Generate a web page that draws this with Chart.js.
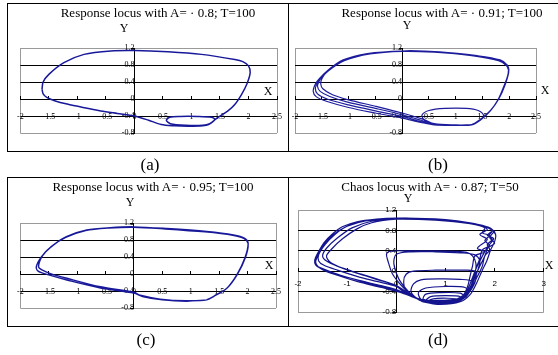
<!DOCTYPE html>
<html><head><meta charset="utf-8">
<script src="https://cdn.jsdelivr.net/npm/chart.js@4.4.1/dist/chart.umd.min.js"></script>
<style>
html,body{margin:0;padding:0;background:#fff;}
#wrap{position:relative;width:558px;height:355px;overflow:hidden;background:#fff;}
canvas{position:absolute;left:0;top:0;}
.box{position:absolute;border:1px solid #000;box-sizing:border-box;}
.t{position:absolute;transform:translate(-50%,-50%);white-space:nowrap;font-family:'Liberation Serif',serif;color:#000;line-height:1;}
.title{font-size:13px;}
.ax{font-size:12px;}
.cap{font-size:17px;}
</style></head><body>
<div id="wrap">
<div class="box" style="left:7px;top:3px;width:282px;height:149px"></div>
<div class="box" style="left:288px;top:3px;width:280px;height:149px"></div>
<div class="box" style="left:7px;top:177px;width:282px;height:150px"></div>
<div class="box" style="left:288px;top:177px;width:280px;height:150px"></div>
<canvas id="cA" width="558" height="355"></canvas>
<canvas id="cB" width="558" height="355"></canvas>
<canvas id="cC" width="558" height="355"></canvas>
<canvas id="cD" width="558" height="355"></canvas>
<div class="t title" style="left:158px;top:12px">Response locus with A= · 0.8; T=100</div>
<div class="t title" style="left:442px;top:12px">Response locus with A= · 0.91; T=100</div>
<div class="t title" style="left:153px;top:186px">Response locus with A= · 0.95; T=100</div>
<div class="t title" style="left:430px;top:186px">Chaos locus with A= · 0.87; T=50</div>
<div class="t ax" style="left:124px;top:28px">Y</div>
<div class="t ax" style="left:407px;top:25px">Y</div>
<div class="t ax" style="left:130px;top:202px">Y</div>
<div class="t ax" style="left:408px;top:198px">Y</div>
<div class="t ax" style="left:268px;top:91px">X</div>
<div class="t ax" style="left:545px;top:90px">X</div>
<div class="t ax" style="left:269px;top:265px">X</div>
<div class="t ax" style="left:549px;top:265px">X</div>
<div class="t cap" style="left:150px;top:164px">(a)</div>
<div class="t cap" style="left:438px;top:164px">(b)</div>
<div class="t cap" style="left:146px;top:339px">(c)</div>
<div class="t cap" style="left:438px;top:339px">(d)</div>
</div>
<script>
const xTicksABC = [-2,-1.5,-1,-0.5,0,0.5,1,1.5,2,2.5];
const xTicksD = [-2,-1,0,1,2,3];
const yTicks = [-0.8,-0.4,0,0.4,0.8,1.2];

const locusA = [
[-1.62,0.23],[-1.6,0.12],[-1.53,0.03],[-1.4,-0.04],[-1.18,-0.12],[-0.9,-0.2],[-0.59,-0.28],[-0.3,-0.34],[0,-0.4],[0.25,-0.5],[0.47,-0.6],[0.7,-0.63],[0.94,-0.64],[1.2,-0.63],[1.3,-0.6],[1.41,-0.48],[1.35,-0.43],[1.1,-0.41],[0.8,-0.41],[0.62,-0.43],[0.56,-0.5],[0.63,-0.58],[0.9,-0.62],[1.2,-0.62],[1.32,-0.58],[1.45,-0.45],[1.64,-0.28],[1.76,-0.13],[1.88,0.11],[1.97,0.345],[2.03,0.62],[2.0,0.78],[1.9,0.88],[1.76,0.93],[1.175,1.05],[0.587,1.11],[0,1.14],[-0.413,1.13],[-0.883,1.05],[-1.236,0.855],[-1.5,0.58],[-1.6,0.4],[-1.62,0.23]
];

const locusB = [
[1.3,-0.61],[1.47,-0.48],[1.65,-0.27],[1.8,0.0],[1.91,0.31],[1.99,0.62],[1.97,0.78],[1.82,0.91],[1.36,1.02],[0.66,1.11],[0,1.13],[-0.63,1.07],[-1.1,0.91],[-1.39,0.67],[-1.55,0.47],
[-1.62,0.35],[-1.66,0.18],[-1.6,0.05],[-1.4,-0.06],[-1.0,-0.2],[-0.5,-0.33],[0,-0.45],[0.35,-0.55],[0.6,-0.61],[1.0,-0.62],[1.3,-0.61],
[1.46,-0.5],[1.64,-0.29],[1.79,-0.02],[1.9,0.3],[1.98,0.6],[1.96,0.77],[1.8,0.9],[1.3,1.02],[0.6,1.1],[0,1.12],[-0.6,1.06],[-1.08,0.9],[-1.38,0.66],[-1.53,0.47],
[-1.58,0.38],[-1.62,0.25],[-1.58,0.12],[-1.4,0.0],[-1.0,-0.14],[-0.5,-0.28],[0,-0.41],[0.35,-0.53],[0.6,-0.6],[1.0,-0.61],[1.3,-0.6],
[1.47,-0.48],[1.52,-0.38],[1.42,-0.27],[1.2,-0.22],[0.8,-0.22],[0.5,-0.27],[0.37,-0.38],[0.42,-0.5],[0.6,-0.59],[1.0,-0.62],[1.3,-0.61],
[1.47,-0.49],[1.66,-0.26],[1.81,0.01],[1.92,0.32],[1.99,0.63],[1.97,0.79],[1.83,0.92],[1.4,1.02],[0.7,1.11],[0,1.13],[-0.65,1.07],[-1.1,0.92],[-1.38,0.68],[-1.52,0.48],
[-1.55,0.42],[-1.58,0.3],[-1.53,0.18],[-1.35,0.06],[-1.0,-0.08],[-0.5,-0.22],[0,-0.37],[0.35,-0.5],[0.6,-0.6],[1.0,-0.62],[1.3,-0.6],
[1.46,-0.48],[1.65,-0.27],[1.8,0.0],[1.91,0.31],[1.99,0.62],[1.97,0.78],[1.82,0.91],[1.36,1.02],[0.66,1.11],[0,1.13],[-0.63,1.07],[-1.1,0.91],[-1.39,0.67],[-1.5,0.47],
[-1.52,0.36],[-1.48,0.24],[-1.3,0.1],[-1.0,-0.02],[-0.5,-0.17],[0,-0.33],[0.4,-0.48],[0.6,-0.58],[1.0,-0.61],[1.3,-0.61]
];

const locusC = [
[1.28,-0.61],[1.4,-0.53],[1.63,-0.34],[1.81,-0.02],[1.95,0.37],[2.01,0.72],[1.95,0.84],[1.75,0.92],[1.28,1.0],[0.58,1.07],[0,1.11],[-0.42,1.09],[-0.83,1.035],[-1.19,0.88],[-1.42,0.68],[-1.6,0.45],[-1.68,0.17],[-1.61,0.09],[-1.47,0.01],[-1.18,-0.1],[-0.59,-0.3],[0,-0.43],[0.11,-0.5],[0.46,-0.59],[0.93,-0.63],[1.28,-0.61],
[1.41,-0.52],[1.64,-0.33],[1.82,-0.01],[1.96,0.38],[2.01,0.71],[1.94,0.83],[1.74,0.91],[1.25,0.99],[0.55,1.06],[0,1.1],[-0.45,1.08],[-0.85,1.02],[-1.2,0.86],[-1.45,0.65],[-1.63,0.4],[-1.72,0.16],[-1.68,0.06],[-1.5,-0.02],[-1.18,-0.14],[-0.59,-0.33],[0,-0.45],[0.15,-0.53],[0.5,-0.61],[0.93,-0.64],[1.28,-0.61]
];

const locusD = [
[0.45,-0.55],[0.2,-0.45],[0,-0.36],[-0.4,-0.26],[-0.8,-0.17],[-1.2,-0.06],[-1.5,0.05],[-1.64,0.12],[-1.66,0.22],[-1.6,0.35],[-1.47,0.56],[-1.3,0.73],[-1.1,0.87],[-0.8,0.97],[-0.4,1.02],[0,1.04],[0.5,1.03],[1.0,1.0],[1.4,0.95],[1.7,0.9],[1.92,0.84],[2.02,0.72],[2.0,0.58],[1.92,0.42],[1.84,0.2],[1.74,0.0],[1.63,-0.24],[1.5,-0.46],[1.3,-0.6],[0.9,-0.65],[0.55,-0.6],
[0.45,-0.55],[0.15,-0.4],[0,-0.3],[-0.4,-0.2],[-0.8,-0.1],[-1.2,0.02],[-1.48,0.12],[-1.58,0.2],[-1.58,0.32],[-1.45,0.52],[-1.25,0.72],[-1.0,0.88],[-0.6,0.99],[0,1.03],[0.6,1.02],[1.2,0.97],[1.6,0.92],[1.85,0.86],[1.95,0.78],[1.88,0.7],[1.95,0.62],[1.85,0.52],[1.9,0.42],[1.8,0.3],[1.75,0.1],[1.65,-0.1],[1.55,-0.3],[1.42,-0.5],[1.2,-0.6],[0.8,-0.62],[0.5,-0.58],
[0.4,-0.52],[0.25,-0.42],[0.1,-0.28],[-0.08,-0.05],[-0.17,0.2],[-0.2,0.33],[-0.14,0.39],[0.2,0.4],[0.7,0.4],[1.2,0.39],[1.43,0.37],[1.55,0.3],[1.62,0.15],[1.6,-0.05],[1.52,-0.28],[1.4,-0.48],[1.2,-0.58],[0.8,-0.6],[0.5,-0.57],
[0.42,-0.53],[0.1,-0.35],[-0.1,-0.25],[-0.5,-0.12],[-0.9,0.0],[-1.2,0.1],[-1.42,0.2],[-1.5,0.3],[-1.42,0.45],[-1.2,0.65],[-0.9,0.85],[-0.5,0.98],[0,1.02],[0.8,1.0],[1.5,0.93],[1.8,0.85],[1.75,0.75],[1.9,0.7],[1.8,0.6],[1.9,0.5],[1.75,0.42],[1.7,0.25],[1.62,0.05],[1.55,-0.2],[1.45,-0.42],[1.3,-0.55],[1.0,-0.6],[0.6,-0.58],
[0.45,-0.55],[0.2,-0.38],[0.15,-0.2],[0.2,-0.06],[0.35,0.0],[0.8,0.02],[1.3,0.02],[1.6,0.0],[1.62,-0.15],[1.55,-0.32],[1.42,-0.48],[1.2,-0.57],[0.8,-0.58],[0.5,-0.55],
[0.4,-0.52],[0.1,-0.4],[-0.3,-0.3],[-0.7,-0.2],[-1.1,-0.09],[-1.45,0.02],[-1.62,0.1],[-1.64,0.2],[-1.55,0.4],[-1.4,0.6],[-1.15,0.8],[-0.85,0.94],[-0.4,1.01],[0.2,1.04],[1.0,1.01],[1.5,0.95],[1.8,0.88],[1.98,0.78],[1.9,0.66],[2.0,0.55],[1.85,0.45],[1.78,0.35],[1.7,0.2],[1.6,0.0],[1.5,-0.25],[1.38,-0.48],[1.15,-0.6],[0.7,-0.62],
[0.45,-0.55],[0.3,-0.4],[0.35,-0.25],[0.5,-0.17],[0.9,-0.15],[1.3,-0.16],[1.55,-0.2],[1.5,-0.35],[1.38,-0.5],[1.1,-0.56],[0.7,-0.57],
[0.45,-0.55],[0.25,-0.4],[0.05,-0.15],[-0.05,0.15],[0.0,0.33],[0.3,0.38],[0.8,0.38],[1.3,0.36],[1.6,0.32],[1.7,0.2],[1.65,0.0],[1.55,-0.25],[1.45,-0.45],[1.25,-0.57],[0.8,-0.59],
[0.45,-0.55],[0.0,-0.28],[-0.4,-0.16],[-0.8,-0.04],[-1.1,0.06],[-1.35,0.18],[-1.42,0.3],[-1.3,0.45],[-1.1,0.63],[-0.8,0.83],[-0.5,0.95],[0,1.02],[0.6,1.02],[1.2,0.98],[1.7,0.9],[1.85,0.82],[1.7,0.72],[1.85,0.62],[1.65,0.45],[1.8,0.38],[1.6,0.3],[1.55,0.1],[1.5,-0.1],[1.45,-0.3],[1.35,-0.48],[1.1,-0.58],[0.7,-0.6],
[0.5,-0.55],[0.45,-0.42],[0.6,-0.33],[1.0,-0.3],[1.4,-0.32],[1.45,-0.42],[1.3,-0.55],[0.9,-0.6],
[0.55,-0.55],[0.6,-0.45],[0.9,-0.42],[1.3,-0.43],[1.38,-0.5],[1.25,-0.6],[0.85,-0.63],
[0.6,-0.58],[0.7,-0.5],[1.0,-0.48],[1.3,-0.5],[1.2,-0.58],[0.9,-0.6],[0.65,-0.58],
[0.6,-0.6],[0.75,-0.54],[1.05,-0.53],[1.25,-0.55],[1.1,-0.61],[0.8,-0.62],[0.55,-0.58],
[0.45,-0.55],[0.1,-0.42],[-0.3,-0.32],[-0.8,-0.2],[-1.2,-0.08],[-1.5,0.03],[-1.63,0.14],[-1.62,0.3],[-1.5,0.5],[-1.3,0.7],[-1.0,0.88],[-0.6,0.99],[0,1.03],[0.7,1.02],[1.3,0.97],[1.75,0.9],[1.95,0.8],[1.85,0.7],[1.98,0.64],[1.88,0.5],[1.8,0.3],[1.7,0.1],[1.58,-0.15],[1.45,-0.4],[1.25,-0.57],[0.8,-0.61],[0.45,-0.55]
];

function fmt(v){ return String(Math.round(v*10)/10); }

function makeChart(id, pts, o) {
  const xT = o.xTicks, yT = yTicks;
  const xMin = xT[0], xMax = xT[xT.length-1], yMin = yT[0], yMax = yT[yT.length-1];
  const edge = (v, a, b) => Math.abs(v-a) < 1e-9 || Math.abs(v-b) < 1e-9;
  return new Chart(document.getElementById(id), {
    type: 'scatter',
    data: { datasets: [{ data: pts.map(p => ({x: p[0], y: p[1]})), showLine: true, borderColor: o.color, borderWidth: o.lw, pointRadius: 0, tension: 0.3, fill: false }] },
    options: {
      responsive: false, animation: false, devicePixelRatio: 1,
      layout: { padding: { left: o.l, top: o.t, right: 558 - o.r, bottom: 355 - o.b } },
      plugins: { legend: {display:false}, tooltip: {enabled:false}, title: {display:false} },
      scales: {
        x: { type: 'linear', min: xMin, max: xMax, position: {y: 0},
          afterBuildTicks: s => { s.ticks = xT.map(v => ({value: v})); },
          afterFit: s => { s.height = 0; },
          ticks: { autoSkip: false, maxRotation: 0, minRotation: 0, padding: o.xPad, color: '#000', font: {family: o.font, size: 8}, callback: v => fmt(v) },
          grid: { drawOnChartArea: true, drawTicks: true, tickLength: -4, tickColor: '#000', lineWidth: 1,
                  color: c => (c.tick && edge(c.tick.value, xMin, xMax)) ? '#9a9a9a' : 'rgba(0,0,0,0)' },
          border: { display: true, color: '#000', width: 1 } },
        y: { type: 'linear', min: yMin, max: yMax, position: {x: 0},
          afterBuildTicks: s => { s.ticks = yT.map(v => ({value: v})); },
          afterFit: s => { s.width = 0; },
          ticks: { autoSkip: false, padding: 2, color: '#000', font: {family: o.font, size: 8}, callback: v => fmt(v) },
          grid: { drawTicks: true, tickLength: 3, tickColor: '#000', lineWidth: 1,
                  color: c => (c.tick && edge(c.tick.value, yMin, yMax)) ? '#9a9a9a' : '#000' },
          border: { display: true, color: '#000', width: 1 } }
      }
    }
  });
}

const serif = "'Liberation Serif', serif";
const sans = "'Liberation Sans', sans-serif";
makeChart('cA', locusA, {xTicks: xTicksABC, l: 20, t: 48, r: 277, b: 133, xPad: 17, font: serif, color: '#18189a', lw: 1.5});
makeChart('cB', locusB, {xTicks: xTicksABC, l: 295, t: 48, r: 552, b: 133, xPad: 17, font: serif, color: '#1c1c9c', lw: 1.2});
makeChart('cC', locusC, {xTicks: xTicksABC, l: 20, t: 223, r: 276, b: 308, xPad: 17, font: serif, color: '#18189a', lw: 1.4});
makeChart('cD', locusD, {xTicks: xTicksD, l: 298, t: 210, r: 552, b: 312, xPad: 12, font: sans, color: '#14148e', lw: 1.2});
</script>
</body></html>
